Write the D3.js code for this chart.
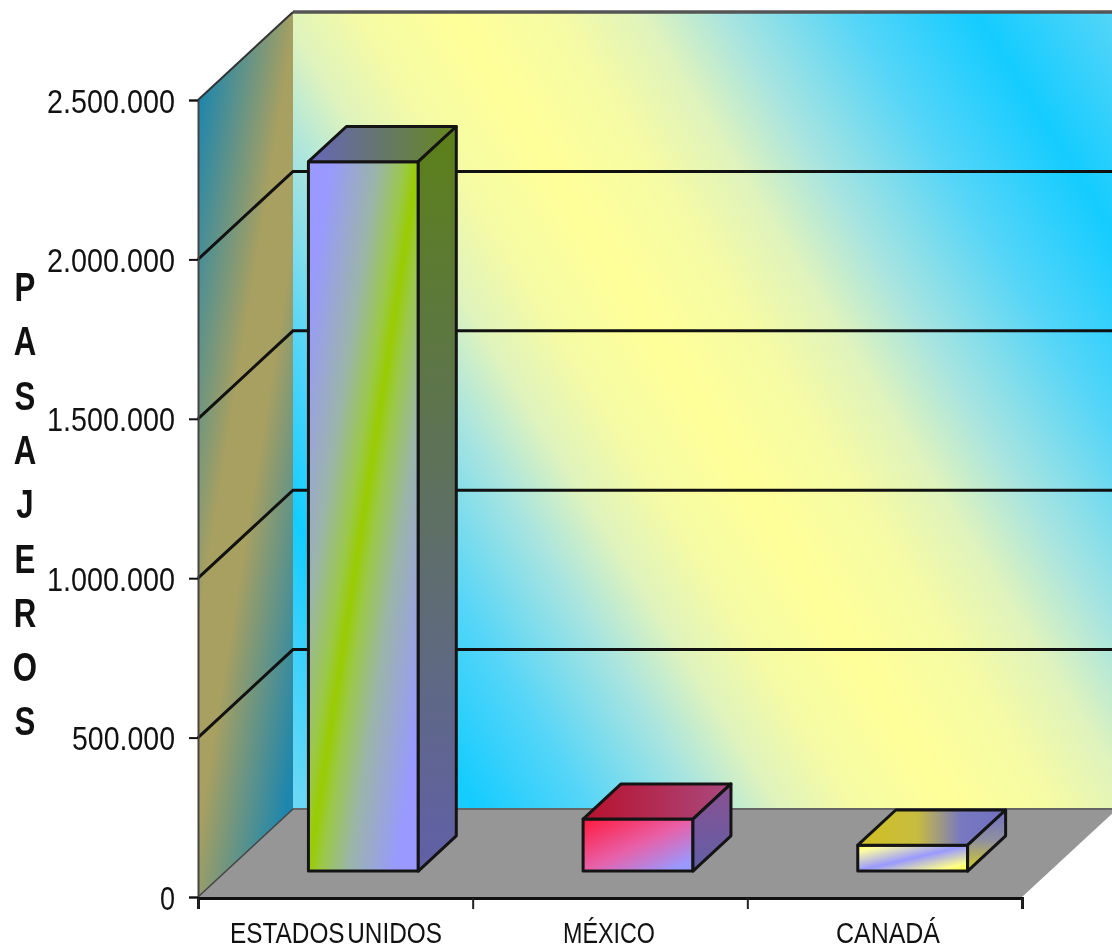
<!DOCTYPE html>
<html><head><meta charset="utf-8">
<style>html,body{margin:0;padding:0;background:#fff}svg{display:block;filter:blur(0.6px)}</style>
<script src="https://cdn.jsdelivr.net/npm/d3@7/dist/d3.min.js"></script></head>
<body><svg id="c" width="1112" height="952"></svg>
<script>
const categories = ["ESTADOS UNIDOS","MÉXICO","CANADÁ"];
const values = [2225000,163000,81000];
const yTicks = [0,500000,1000000,1500000,2000000,2500000];
const yTitle = ["P","A","S","A","J","E","R","O","S"];

const svg = d3.select("#c"), defs = svg.append("defs");
const x0=198,x1=1022,yBase=897,yTop=100,dx=95,dy=-88;
const barDepthFrac=0.4, barOffsetFrac=0.295;
const y=d3.scaleLinear().domain([0,2500000]).range([yBase,yTop]);
const ox=dx*barOffsetFrac, oy=dy*barOffsetFrac;
const bx=d3.scaleBand().domain(categories).range([x0+ox,x1+ox]).paddingInner(.6).paddingOuter(.3);
const fmt=v=>d3.format(",")(v).replace(/,/g,".");

function grad(id,a,b,stops,bbox){
  const g=defs.append("linearGradient").attr("id",id)
    .attr("gradientUnits",bbox?"objectBoundingBox":"userSpaceOnUse")
    .attr("x1",a[0]).attr("y1",a[1]).attr("x2",b[0]).attr("y2",b[1]);
  stops.forEach(s=>g.append("stop").attr("offset",s[0]).attr("stop-color",s[1]));
  return `url(#${id})`;
}
function poly(pts,fill,sw=3,st="#141414"){
  return svg.append("polygon").attr("points",pts.map(p=>p.join(",")).join(" ")).attr("fill",fill)
    .attr("stroke",st).attr("stroke-width",sw).attr("stroke-linejoin","round");
}
const C="#14ccff",Yl="#ffff99";
// back wall: cyan -> yellow -> cyan colour ramp
const ramp=[[0,C],[.24,"#55d5f8"],[.48,"#a8e4e0"],[.64,"#dff3bd"],[.8,"#f5fba5"],[1,Yl]];
const off=t=>(t+200)/1350;
const wallStops=[[0,"#6ad8f5"]]
  .concat(ramp.map(r=>[off(-30+475*r[0]),r[1]]))
  .concat(ramp.slice(0,-1).reverse().map(r=>[off(968-523*r[0]),r[1]]))
  .concat([[1,"#6ad8f5"]]);
const wall=grad("wall",[293,789],[1264,182],wallStops);
svg.append("rect").attr("x",x0+dx).attr("y",yTop+dy).attr("width",1112-x0-dx).attr("height",yBase-yTop).attr("fill",wall);
svg.append("line").attr("x1",x0+dx).attr("x2",1112).attr("y1",yTop+dy).attr("y2",yTop+dy).attr("stroke","#555").attr("stroke-width",3.5);
// side wall
const T="#1c86ae",K="#a8a060";
const side=grad("side",[198,100],[395,131.5],[[0,T],[.42,K],[.58,K],[1,T]]);
poly([[x0,yTop],[x0+dx,yTop+dy],[x0+dx,yBase+dy],[x0,yBase]],side,0,"none");
svg.append("line").attr("x1",x0).attr("y1",yTop).attr("x2",x0+dx).attr("y2",yTop+dy).attr("stroke","#333").attr("stroke-width",2);
// floor
poly([[x0,yBase],[x0+dx,yBase+dy],[1112,yBase+dy],[1112,yBase-(1112-x1)*(-dy/dx)],[x1,yBase]],"#969696",0,"none");
svg.append("line").attr("x1",x0+dx).attr("x2",1112).attr("y1",yBase+dy).attr("y2",yBase+dy).attr("stroke","#666").attr("stroke-width",2);
svg.append("line").attr("x1",x0).attr("y1",yBase).attr("x2",x0+dx).attr("y2",yBase+dy).attr("stroke","#444").attr("stroke-width",1.5);
// gridlines
yTicks.slice(1,-1).forEach(t=>{
  svg.append("polyline").attr("points",`${x0},${y(t)} ${x0+dx},${y(t)+dy} 1112,${y(t)+dy}`)
    .attr("fill","none").attr("stroke","#111").attr("stroke-width",3);
});
// axes
const ax=d3.axisLeft(y).tickValues(yTicks).tickFormat(fmt).tickSize(9).tickPadding(14);
const gy=svg.append("g").attr("transform",`translate(${x0},0)`).call(ax);
gy.selectAll("line").attr("stroke","#111").attr("stroke-width",2);
gy.select(".domain").attr("stroke","#444").attr("stroke-width",2);
gy.selectAll("text").attr("font-family","'Liberation Sans'").attr("font-size",34).attr("fill","#111")
  .attr("dy",12).attr("lengthAdjust","spacingAndGlyphs")
  .attr("textLength",d=>{const w=fmt(d).length;return w<2?15:w<8?103:128;});
const gx=svg.append("g").attr("transform",`translate(0,${yBase+1})`)
  .call(d3.axisBottom(d3.scaleLinear().domain([0,3]).range([x0,x1])).tickValues([0,1,2,3]).tickSize(11).tickFormat(""));
gx.selectAll("line").attr("stroke","#222").attr("stroke-width",2);
gx.select(".domain").attr("stroke","#111").attr("stroke-width",3);
const labW=[212,92,104], labCx=[336,609,888];
svg.append("g").selectAll("text").data(categories).join("text")
  .attr("x",(d,i)=>labCx[i]).attr("y",943).attr("text-anchor","middle")
  .attr("font-family","'Liberation Sans'").attr("font-size",30).attr("fill","#111")
  .attr("word-spacing",-5)
  .attr("textLength",(d,i)=>labW[i]).attr("lengthAdjust","spacingAndGlyphs").text(d=>d);
// title
svg.append("g").selectAll("text").data(yTitle).join("text")
  .attr("transform",(d,i)=>`translate(25,${301+i*54.3}) scale(.78,1)`).attr("text-anchor","middle")
  .attr("font-family","'Liberation Sans'").attr("font-weight","bold").attr("font-size",40).attr("fill","#111").text(d=>d);
// bars
const ddx=dx*barDepthFrac, ddy=dy*barDepthFrac;
const L="#9999ff";
const frontStops=[
 [[0,L],[.1,L],[.32,"#9ab5a8"],[.44,"#9bc84a"],[.5,"#99cc00"],[.56,"#9bc84a"],[.68,"#9ab5a8"],[.9,L],[1,L]],
 [[0,"#ff1a3c"],[.5,"#e860a8"],[.9,L],[1,L]],
 [[0,"#ffff33"],[.12,"#ffffa0"],[.5,L],[.85,"#ffff88"],[1,"#ffff33"]]];
const topStops=[
 [[0,"#6666bb"],[1,"#66881a"]],
 [[0,"#b8102c"],[1,"#aa4a80"]],
 [[0,"#d0c020"],[.4,"#c8bc40"],[.7,"#7878c0"],[1,"#7070c0"]]];
const sideStops=[
 [[0,"#5c8018"],[1,"#6060a8"]],
 [[0,"#8a5090"],[1,"#6060a8"]],
 [[0,"#7070c0"],[.5,"#9090a0"],[1,"#d8d020"]]];
categories.forEach((c,i)=>{
  const l=bx(c),r=l+bx.bandwidth(),b=y(0)+oy,t=y(values[i])+oy;
  poly([[l,b],[l,t],[r,t],[r,b]],grad("f"+i,[0,0],[1,1],frontStops[i],true));
  poly([[l,t],[l+ddx,t+ddy],[r+ddx,t+ddy],[r,t]],grad("t"+i,[0,.5],[1,.5],topStops[i],true));
  poly([[r,t],[r+ddx,t+ddy],[r+ddx,b+ddy],[r,b]],grad("s"+i,[0,0],[0,1],sideStops[i],true));
});
</script></body></html>
